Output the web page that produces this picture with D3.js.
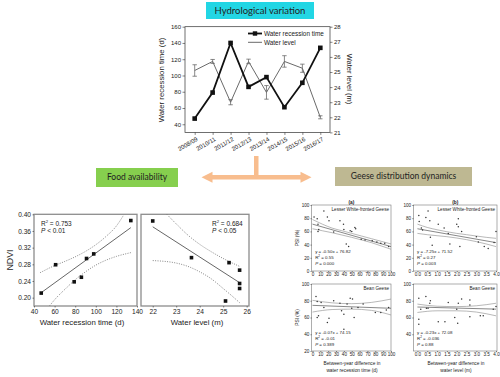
<!DOCTYPE html>
<html><head><meta charset="utf-8">
<script src="https://cdn.jsdelivr.net/npm/d3@7"></script>
<style>
body{margin:0;background:#fff}
svg{display:block}
text{font-family:"Liberation Sans",Arial,sans-serif;fill:#222}
</style>
</head><body>
<svg id="c" width="500" height="377"></svg>
<script>
// ---------------- DATA ----------------
const seasons = ["2008/09","2010/11","2011/12","2012/13","2013/14","2014/15","2015/16","2016/17"];
const recessionTime = [47, 79, 140, 86, 98, 61, 91, 134];
const waterLevel = [25.1, 25.7, 23.0, 25.7, 23.65, 25.7, 25.25, 22.0];
const waterLevelErr = [0.38, 0.13, 0.17, 0.15, 0.45, 0.38, 0.27, 0.1];
const recessionTicks = [40, 60, 80, 100, 120, 140, 160];
const levelTicks = [21, 22, 23, 24, 25, 26, 27, 28];

// NDVI vs water recession time
const ndviRecX = [47, 61, 79, 86, 91, 98, 134];
const ndviRecY = [0.211, 0.279, 0.238, 0.249, 0.294, 0.305, 0.385];
const ndviRecFitX = [47, 134];
const ndviRecFitY = [0.212, 0.368];
const ndviRecUpX = [46, 60, 70, 80, 90, 100, 110, 120, 127];
const ndviRecUpY = [0.260, 0.277, 0.287, 0.298, 0.311, 0.327, 0.347, 0.372, 0.398];
const ndviRecLoX = [55, 60, 70, 80, 90, 100, 110, 120, 134];
const ndviRecLoY = [0.180, 0.195, 0.220, 0.243, 0.262, 0.278, 0.290, 0.299, 0.308];
const ndviTicks = [0.20, 0.24, 0.28, 0.32, 0.36, 0.40];
const recTicks2 = [40, 60, 80, 100, 120, 140];

// NDVI vs water level
const ndviLevX = [22.0, 23.65, 25.25, 25.7, 25.7, 25.7, 25.1];
const ndviLevY = [0.384, 0.296, 0.284, 0.266, 0.234, 0.222, 0.192];
const ndviLevFitX = [22.0, 25.7];
const ndviLevFitY = [0.370, 0.236];
const ndviLevUpX = [22.6, 23.0, 23.5, 24.0, 24.5, 25.0, 25.7];
const ndviLevUpY = [0.400, 0.377, 0.350, 0.328, 0.310, 0.294, 0.275];
const ndviLevLoX = [22.0, 23.0, 23.5, 24.0, 24.5, 25.0, 25.4, 25.7];
const ndviLevLoY = [0.289, 0.283, 0.275, 0.262, 0.245, 0.222, 0.203, 0.188];
const levTicks2 = [22, 23, 24, 25, 26];

// (a) Lesser White-fronted Geese vs recession-time difference
const lwgRecX = [2, 6, 7, 8, 7, 14.5, 19, 21, 27, 35, 39.5, 40, 43, 46, 48, 50, 54, 55, 62, 67, 76, 82, 87, 92, 97];
const lwgRecY = [82, 79, 71, 63, 60, 91, 82, 76, 59, 76, 71, 63, 41, 37, 61, 60, 66, 64, 48, 47, 46, 44, 42, 42, 37];
const lwgRecMidX = [0, 100], lwgRecMidY = [71, 37];
const bandX_a = [0, 12.5, 25, 37.5, 50, 62.5, 75, 87.5, 100];
const lwgRecUpY = [78, 71, 65, 61, 57, 53, 49, 45, 41];
const lwgRecLoY = [64, 61, 58, 54.5, 51, 47, 43, 38, 33];
// (b) Lesser White-fronted Geese vs water-level difference
const lwgLevX = [0.07, 0.09, 0.2, 0.26, 0.43, 0.54, 0.63, 0.66, 0.75, 1.06, 1.36, 1.57, 1.65, 2.0, 2.08, 2.08, 2.16, 2.25, 3.0, 3.1, 3.4, 3.6, 3.9, 4.0];
const lwgLevY = [84, 75, 65, 62, 81, 91, 76, 51, 39, 71, 65, 57, 41, 71, 79, 67, 37, 60, 52, 44, 37, 34, 43, 60];
const lwgLevMidX = [0, 4], lwgLevMidY = [64, 43];
const bandX_b = [0, 0.5, 1, 1.5, 2, 2.5, 3, 3.5, 4];
const lwgLevUpY = [71, 66, 62.5, 59.5, 57, 55, 53, 51, 49.5];
const lwgLevLoY = [57, 55, 53.5, 52, 50, 47.5, 44.5, 41, 37];
// (c) Bean Geese vs recession-time difference
const beanRecX = [4.5, 6, 6, 7.7, 11, 14.5, 19, 21, 27, 35, 37, 40, 40, 44, 48, 51, 50, 53, 58, 64.5, 80, 87, 94, 97];
const beanRecY = [85, 79, 60, 62, 78, 72, 54, 59, 80, 77, 68, 64, 46, 76, 83, 82, 71, 60, 72, 76, 66, 66, 69, 72];
const beanRecMidX = [0, 100], beanRecMidY = [74.5, 71];
const bandX_c = [0, 25, 50, 75, 100];
const beanRecUpY = [80.5, 77.5, 76.5, 78, 82];
const beanRecLoY = [66.5, 69.5, 70, 68.5, 63];
// (d) Bean Geese vs water-level difference
const beanLevX = [0.07, 0.07, 0.07, 0.17, 0.43, 0.46, 0.54, 0.63, 0.66, 1.06, 1.4, 1.57, 1.9, 2.0, 2.05, 2.08, 2.25, 2.67, 2.67, 2.67, 3.2, 3.35, 3.86, 4.0];
const beanLevY = [83, 58, 52, 70, 85, 71, 71, 77, 80, 55, 55, 78, 60, 70, 53, 77, 82, 81, 75, 61, 62, 62, 70, 73];
const beanLevMidX = [0, 4], beanLevMidY = [72.5, 70];
const bandX_d = [0, 1, 2, 3, 4];
const beanLevUpY = [76, 73.5, 73, 74, 77];
const beanLevLoY = [66, 68, 68, 66.5, 62];

const psiTicksTop = [0, 20, 40, 60, 80, 100];
const psiTicksC = [20, 40, 60, 80, 100];
const psiTicksD = [40, 60, 80, 100];
const diffRecTicks = [0, 10, 20, 30, 40, 50, 60, 70, 80, 90, 100];
const diffLevTicks = [0, 0.5, 1, 1.5, 2, 2.5, 3, 3.5, 4];

// ---------------- DRAW ----------------
const svg = d3.select("#c");
const LATO = "Lato, 'Open Sans', sans-serif";

function styleAxis(sel, fs) {
  sel.select(".domain").remove();
  sel.selectAll(".tick line").attr("stroke", "#333").attr("stroke-width", 0.6);
  sel.selectAll(".tick text").attr("font-size", fs).attr("fill", "#333")
     .style("font-family", "'Liberation Sans', Arial, sans-serif");
}
function pathOf(sx, sy, xs, ys, curve) {
  return d3.line().x((d, i) => sx(xs[i])).y((d, i) => sy(ys[i])).curve(curve || d3.curveLinear)(xs);
}

// ===== Title boxes =====
function labelBox(x0, y0, w, h, fill, txt, fs) {
  svg.append("rect").attr("x", x0).attr("y", y0).attr("width", w).attr("height", h).attr("fill", fill);
  svg.append("text").attr("x", x0 + w / 2).attr("y", y0 + h / 2).attr("dy", "0.35em")
     .attr("text-anchor", "middle").attr("font-size", fs).style("font-family", LATO)
     .attr("fill", "#1a1a1a").text(txt);
}
labelBox(206, 2, 108, 17, "#22d6e4", "Hydrological variation", 9.5);
labelBox(96, 168, 82, 19, "#86cf4e", "Food availability", 8.5);
labelBox(335, 167, 137, 19, "#beb892", "Geese distribution dynamics", 8.5);

// ===== Arrow (decorative) =====
svg.append("polygon").attr("fill", "#f8bd8e").attr("points", [
  [201.5, 177.3], [212.5, 171.8], [212.5, 175.1], [254, 175.1], [254, 156], [258.5, 156],
  [258.5, 175.1], [300.5, 175.1], [300.5, 171.8], [311.5, 177.3], [300.5, 182.8], [300.5, 179.5],
  [212.5, 179.5], [212.5, 182.8]].map(p => p.join(",")).join(" "));

// ===== Top chart =====
const L = 185, R = 330, T = 26.7, B = 132.4;
const x = d3.scalePoint().domain(seasons).range([L, R]).padding(0.54);
const yL = d3.scaleLinear().domain([30, 160]).range([B, T]);
const yR = d3.scaleLinear().domain([21, 28]).range([B, T]);
const topG = svg.append("g");
topG.append("rect").attr("x", L).attr("y", T).attr("width", R - L).attr("height", B - T)
   .attr("fill", "none").attr("stroke", "#333").attr("stroke-width", 0.7);
topG.append("g").attr("transform", `translate(${L},0)`)
   .call(d3.axisLeft(yL).tickValues(recessionTicks).tickFormat(d3.format("d")).tickSize(2.5).tickPadding(1.5))
   .call(s => styleAxis(s, 6));
topG.append("g").attr("transform", `translate(${R},0)`)
   .call(d3.axisRight(yR).tickValues(levelTicks).tickFormat(d3.format("d")).tickSize(2.5).tickPadding(1.5))
   .call(s => styleAxis(s, 6));
const xa = topG.append("g").attr("transform", `translate(0,${B})`)
   .call(d3.axisBottom(x).tickSize(2.5)).call(s => styleAxis(s, 6));
xa.selectAll(".tick text").attr("x", 0).attr("y", 0).attr("dy", 0)
   .attr("text-anchor", "end").attr("transform", "translate(3,8) rotate(-30)");

// water level line + error bars
topG.append("path").attr("d", pathOf(d => x(d), yR, seasons, waterLevel))
   .attr("fill", "none").attr("stroke", "#6a6a6a").attr("stroke-width", 1);
seasons.forEach((s, i) => {
  const cx = x(s), y1 = yR(waterLevel[i] - waterLevelErr[i]), y2 = yR(waterLevel[i] + waterLevelErr[i]);
  const eg = topG.append("g").attr("stroke", "#6a6a6a").attr("stroke-width", 0.8);
  eg.append("line").attr("x1", cx).attr("x2", cx).attr("y1", y1).attr("y2", y2);
  eg.append("line").attr("x1", cx - 2.2).attr("x2", cx + 2.2).attr("y1", y1).attr("y2", y1);
  eg.append("line").attr("x1", cx - 2.2).attr("x2", cx + 2.2).attr("y1", y2).attr("y2", y2);
});
// recession line
topG.append("path").attr("d", pathOf(d => x(d), yL, seasons, recessionTime))
   .attr("fill", "none").attr("stroke", "#111").attr("stroke-width", 1.8);
topG.selectAll("rect.m").data(recessionTime).enter().append("rect").attr("class", "m")
   .attr("x", (d, i) => x(seasons[i]) - 2.3).attr("y", d => yL(d) - 2.3)
   .attr("width", 4.6).attr("height", 4.6).attr("fill", "#111");
// legend
const lg = topG.append("g");
lg.append("line").attr("x1", 248).attr("x2", 262).attr("y1", 33.5).attr("y2", 33.5).attr("stroke", "#111").attr("stroke-width", 1.8);
lg.append("rect").attr("x", 252.8).attr("y", 31.3).attr("width", 4.4).attr("height", 4.4).attr("fill", "#111");
lg.append("text").attr("x", 264).attr("y", 33.5).attr("dy", "0.35em").attr("font-size", 6.4).attr("fill", "#333").text("Water recession time");
lg.append("line").attr("x1", 248).attr("x2", 262).attr("y1", 42.3).attr("y2", 42.3).attr("stroke", "#6a6a6a").attr("stroke-width", 1);
lg.append("text").attr("x", 264).attr("y", 42.3).attr("dy", "0.35em").attr("font-size", 6.4).attr("fill", "#333").text("Water level");
// axis titles
topG.append("text").attr("transform", "translate(164,80) rotate(-90)").attr("text-anchor", "middle")
   .attr("font-size", 7.8).attr("fill", "#333").text("Water recession time (d)");
topG.append("text").attr("transform", "translate(347,79) rotate(90)").attr("text-anchor", "middle")
   .attr("font-size", 7.5).attr("fill", "#333").text("Water level (m)");

// ===== NDVI panels =====
const yN = d3.scaleLinear().domain([0.18, 0.40]).range([306, 214.3]);
function ndviPanel(x0, x1, sx, ticks, fmt, px, py, fx, fy, ux, uy, lx, ly, showY) {
  const g = svg.append("g");
  g.append("rect").attr("x", x0).attr("y", 214.3).attr("width", x1 - x0).attr("height", 306 - 214.3)
   .attr("fill", "none").attr("stroke", "#8d8d8d").attr("stroke-width", 1.3);
  if (showY) g.append("g").attr("transform", `translate(${x0},0)`)
    .call(d3.axisLeft(yN).tickValues(ndviTicks).tickFormat(d3.format(".2f")).tickSize(1.5).tickPadding(1.5))
    .call(s => styleAxis(s, 6.6));
  g.append("g").attr("transform", "translate(0,306)")
    .call(d3.axisBottom(sx).tickValues(ticks).tickFormat(fmt).tickSize(1.5).tickPadding(1.5))
    .call(s => styleAxis(s, 6.6));
  const cl = g.append("g");
  cl.append("path").attr("d", pathOf(sx, yN, ux, uy, d3.curveMonotoneX)).attr("fill", "none")
    .attr("stroke", "#777").attr("stroke-width", 0.9).attr("stroke-dasharray", "1,1.4");
  cl.append("path").attr("d", pathOf(sx, yN, lx, ly, d3.curveMonotoneX)).attr("fill", "none")
    .attr("stroke", "#777").attr("stroke-width", 0.9).attr("stroke-dasharray", "1,1.4");
  cl.append("path").attr("d", pathOf(sx, yN, fx, fy)).attr("fill", "none").attr("stroke", "#555").attr("stroke-width", 0.9);
  g.selectAll("rect.p").data(px).enter().append("rect").attr("class", "p")
    .attr("x", (d, i) => sx(d) - 1.8).attr("y", (d, i) => yN(py[i]) - 1.8).attr("width", 3.6).attr("height", 3.6).attr("fill", "#111");
  return g;
}
const xN1 = d3.scaleLinear().domain([40, 140]).range([34, 137]);
const xN2 = d3.scaleLinear().domain([21.5, 26.1]).range([141, 249]);
const p1 = ndviPanel(34, 137, xN1, recTicks2, d3.format("d"), ndviRecX, ndviRecY, ndviRecFitX, ndviRecFitY, ndviRecUpX, ndviRecUpY, ndviRecLoX, ndviRecLoY, true);
const p2 = ndviPanel(141, 249, xN2, levTicks2, d3.format("d"), ndviLevX, ndviLevY, ndviLevFitX, ndviLevFitY, ndviLevUpX, ndviLevUpY, ndviLevLoX, ndviLevLoY, false);
function rText(g, x0, y0, r2, pTxt, fs) {
  const t = g.append("text").attr("x", x0).attr("y", y0).attr("font-size", fs).attr("fill", "#333");
  t.append("tspan").text("R");
  t.append("tspan").attr("dy", -2.5).attr("font-size", fs * 0.65).text("2");
  t.append("tspan").attr("dy", 2.5).text(" = " + r2);
  const t2 = g.append("text").attr("x", x0).attr("y", y0 + 7).attr("font-size", fs).attr("fill", "#333");
  t2.append("tspan").attr("font-style", "italic").text("P");
  t2.append("tspan").text(" " + pTxt);
}
rText(p1, 41, 225.5, "0.753", "< 0.01", 6.5);
rText(p2, 212, 225.5, "0.684", "< 0.05", 6.5);
svg.append("text").attr("transform", "translate(13,260) rotate(-90)").attr("text-anchor", "middle")
   .attr("font-size", 8.8).attr("fill", "#333").text("NDVI");
svg.append("text").attr("x", 82).attr("y", 324.5).attr("text-anchor", "middle").attr("font-size", 7.8).attr("fill", "#333").text("Water recession time (d)");
svg.append("text").attr("x", 197).attr("y", 324.5).attr("text-anchor", "middle").attr("font-size", 7.8).attr("fill", "#333").text("Water level (m)");

// ===== PSI panels =====
function psiPanel(o) {
  const g = svg.append("g");
  g.append("rect").attr("x", o.x0).attr("y", o.y0).attr("width", o.x1 - o.x0).attr("height", o.y1 - o.y0)
   .attr("fill", "none").attr("stroke", "#777").attr("stroke-width", 0.6);
  g.append("g").attr("transform", `translate(${o.x0},0)`)
   .call(d3.axisLeft(o.sy).tickValues(o.yTicks).tickFormat(d3.format("d")).tickSize(1.2).tickPadding(1.2)).call(s => styleAxis(s, 4.6));
  g.append("g").attr("transform", `translate(0,${o.y1})`)
   .call(d3.axisBottom(o.sx).tickValues(o.xTicks).tickFormat(o.fmt).tickSize(1.2).tickPadding(1)).call(s => styleAxis(s, 4.6));
  [[o.bx, o.up], [o.bx, o.lo]].forEach(([bx, by]) => g.append("path")
    .attr("d", pathOf(o.sx, o.sy, bx, by, d3.curveMonotoneX)).attr("fill", "none").attr("stroke", "#888").attr("stroke-width", 0.6));
  g.append("path").attr("d", pathOf(o.sx, o.sy, o.mx, o.my)).attr("fill", "none").attr("stroke", "#555").attr("stroke-width", 0.7);
  g.selectAll("circle").data(o.px).enter().append("circle")
   .attr("cx", d => o.sx(d)).attr("cy", (d, i) => o.sy(o.py[i])).attr("r", 0.75).attr("fill", "#333");
  g.append("text").attr("x", o.x1 - 2).attr("y", o.y0 + 5.5).attr("text-anchor", "end").attr("font-size", 4.6).attr("fill", "#333").text(o.name);
  const st = g.append("g").attr("font-size", 4.4);
  st.append("text").attr("x", o.x0 + 3.5).attr("y", o.ty).attr("fill", "#333").text(o.eq);
  const r = st.append("text").attr("x", o.x0 + 3.5).attr("y", o.ty + 6).attr("fill", "#333");
  r.append("tspan").text("R"); r.append("tspan").attr("dy", -1.6).attr("font-size", 3).text("2");
  r.append("tspan").attr("dy", 1.6).text(" = " + o.r2);
  const p = st.append("text").attr("x", o.x0 + 3.5).attr("y", o.ty + 12).attr("fill", "#333");
  p.append("tspan").attr("font-style", "italic").text("P"); p.append("tspan").text(" = " + o.p);
  if (o.panel) g.append("text").attr("x", (o.x0 + o.x1) / 2).attr("y", o.y0 - 1.5).attr("text-anchor", "middle")
    .attr("font-size", 4.8).attr("font-weight", "bold").attr("fill", "#333").text(o.panel);
  if (o.ytitle) g.append("text").attr("transform", `translate(${o.x0 - 13},${(o.y0 + o.y1) / 2}) rotate(-90)`)
    .attr("text-anchor", "middle").attr("font-size", 4.8).attr("fill", "#333").text("PSI (%)");
  return g;
}
const xA = d3.scaleLinear().domain([-1, 100]).range([311.7, 391]);
const xB = d3.scaleLinear().domain([-0.2, 4.05]).range([413.5, 497]);
const yTop = d3.scaleLinear().domain([0, 100]).range([271, 205]);
const yBot = d3.scaleLinear().domain([20, 100]).range([351, 284]);
psiPanel({x0: 311.7, x1: 391, y0: 205, y1: 271, sx: xA, sy: yTop, xTicks: diffRecTicks, yTicks: psiTicksTop, fmt: d3.format("d"),
  px: lwgRecX, py: lwgRecY, mx: lwgRecMidX, my: lwgRecMidY, bx: bandX_a, up: lwgRecUpY, lo: lwgRecLoY,
  name: "Lesser White-fronted Geese", eq: "y = -0.50x + 76.82", r2: "0.55", p: "0.000", ty: 253, panel: "(a)", ytitle: true});
psiPanel({x0: 413.5, x1: 497, y0: 205, y1: 271, sx: xB, sy: yTop, xTicks: diffLevTicks, yTicks: psiTicksTop, fmt: d3.format(".1f"),
  px: lwgLevX, py: lwgLevY, mx: lwgLevMidX, my: lwgLevMidY, bx: bandX_b, up: lwgLevUpY, lo: lwgLevLoY,
  name: "Lesser White-fronted Geese", eq: "y = -7.25x + 71.52", r2: "0.27", p: "0.003", ty: 253, panel: "(b)", ytitle: false});
psiPanel({x0: 311.7, x1: 391, y0: 284, y1: 351, sx: xA, sy: yBot, xTicks: diffRecTicks, yTicks: psiTicksC, fmt: d3.format("d"),
  px: beanRecX, py: beanRecY, mx: beanRecMidX, my: beanRecMidY, bx: bandX_c, up: beanRecUpY, lo: beanRecLoY,
  name: "Bean Geese", eq: "y = -0.07x + 74.15", r2: "-0.01", p: "0.389", ty: 333.5, panel: null, ytitle: true});
psiPanel({x0: 413.5, x1: 497, y0: 284, y1: 351, sx: xB, sy: yBot, xTicks: diffLevTicks, yTicks: psiTicksD, fmt: d3.format(".1f"),
  px: beanLevX, py: beanLevY, mx: beanLevMidX, my: beanLevMidY, bx: bandX_d, up: beanLevUpY, lo: beanLevLoY,
  name: "Bean Geese", eq: "y = -0.23x + 72.08", r2: "-0.036", p: "0.88", ty: 333.5, panel: null, ytitle: false});
[[352, "Between-year difference in", "water recession time (d)"], [456, "Between-year difference in", "water level (m)"]].forEach(([cx, a, b]) => {
  svg.append("text").attr("x", cx).attr("y", 365).attr("text-anchor", "middle").attr("font-size", 4.8).attr("fill", "#333").text(a);
  svg.append("text").attr("x", cx).attr("y", 371.5).attr("text-anchor", "middle").attr("font-size", 4.8).attr("fill", "#333").text(b);
});
</script>
</body></html>
